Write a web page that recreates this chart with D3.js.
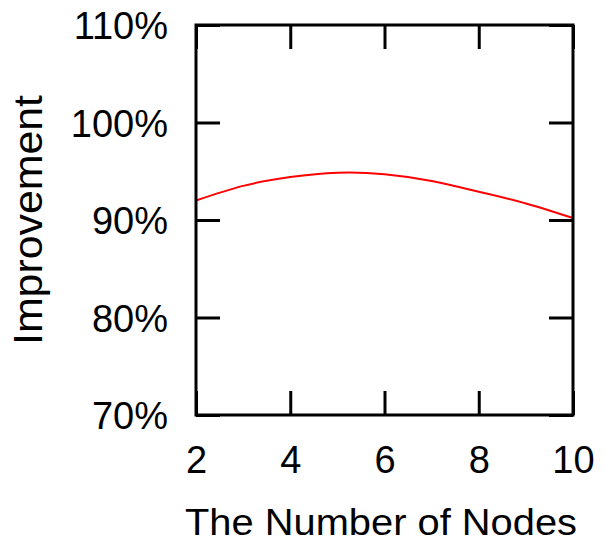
<!DOCTYPE html>
<html>
<head>
<meta charset="utf-8">
<script src="https://cdn.jsdelivr.net/npm/d3@7"></script>
<style>
  html, body { margin: 0; padding: 0; background: #fff; }
  svg { display: block; }
  text { font-family: "Liberation Sans", Arial, Helvetica, sans-serif; fill: #000; }
</style>
</head>
<body>
<script>
// Data
const nodes = [2, 3, 4, 5, 6, 7, 8, 9, 10];
const improvement = [92.0, 93.5, 94.4, 94.85, 94.7, 94.0, 92.9, 91.7, 90.2];
const xTicks = [2, 4, 6, 8, 10];
const yTicks = [70, 80, 90, 100, 110];
const xLabel = "The Number of Nodes";
const yLabel = "Improvement";

const W = 605, H = 546;
const m = { left: 196, right: 573, top: 25, bottom: 415 };

const svg = d3.select("body").append("svg").attr("width", W).attr("height", H);

const x = d3.scaleLinear().domain([2, 10]).range([m.left, m.right]);
const y = d3.scaleLinear().domain([70, 110]).range([m.bottom, m.top]);

const tickLen = 24;

// Line
const line = d3.line().x((d, i) => x(nodes[i])).y(d => y(d)).curve(d3.curveNatural);
svg.append("path").datum(improvement)
  .attr("d", line).attr("fill", "none").attr("stroke", "#ff0000").attr("stroke-width", 2);

// Axes with inward ticks
const axisStyle = g => {
  g.select(".domain").remove();
  g.selectAll(".tick line").attr("stroke", "#000").attr("stroke-width", 3);
};

svg.append("g").attr("transform", `translate(0,${m.bottom})`)
  .call(d3.axisBottom(x).tickValues(xTicks).tickSize(-tickLen).tickPadding(0).tickFormat(d3.format("d")))
  .call(axisStyle)
  .call(g => g.selectAll(".tick text").attr("y", 58).attr("dy", 0)
    .attr("font-size", 38).attr("font-family", "Liberation Sans, Arial, sans-serif"));

svg.append("g").attr("transform", `translate(0,${m.top})`)
  .call(d3.axisTop(x).tickValues(xTicks).tickSize(-tickLen).tickFormat(""))
  .call(axisStyle);

svg.append("g").attr("transform", `translate(${m.left},0)`)
  .call(d3.axisLeft(y).tickValues(yTicks).tickSize(-tickLen).tickFormat(d => d + "%"))
  .call(axisStyle)
  .call(g => g.selectAll(".tick text").attr("x", -28).attr("dy", "0.36em")
    .attr("font-size", 38).attr("font-family", "Liberation Sans, Arial, sans-serif"));

svg.append("g").attr("transform", `translate(${m.right},0)`)
  .call(d3.axisRight(y).tickValues(yTicks).tickSize(-tickLen).tickFormat(""))
  .call(axisStyle);

// Frame
svg.append("rect")
  .attr("x", m.left).attr("y", m.top)
  .attr("width", m.right - m.left).attr("height", m.bottom - m.top)
  .attr("fill", "none").attr("stroke", "#000").attr("stroke-width", 3);

// Axis labels
svg.append("text")
  .attr("x", 381).attr("y", 535)
  .attr("text-anchor", "middle").attr("font-size", 36)
  .attr("textLength", 392).attr("lengthAdjust", "spacingAndGlyphs")
  .text(xLabel);

svg.append("text")
  .attr("transform", `translate(42,220) rotate(-90)`)
  .attr("text-anchor", "middle").attr("font-size", 40)
  .attr("textLength", 250).attr("lengthAdjust", "spacingAndGlyphs")
  .text(yLabel);
</script>
</body>
</html>
